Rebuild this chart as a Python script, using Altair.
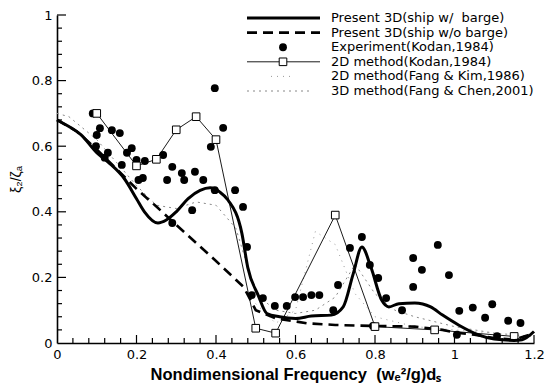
import altair as alt
import pandas as pd

# ---------------- data ----------------
solid_x = [0, 0.03, 0.06, 0.1, 0.13, 0.17, 0.2, 0.22, 0.254, 0.275, 0.3, 0.33, 0.36, 0.385, 0.41,
           0.43, 0.465, 0.48, 0.506, 0.528, 0.56, 0.6, 0.64, 0.69, 0.72, 0.745, 0.767, 0.79,
           0.817, 0.835, 0.86, 0.9, 0.94, 0.97, 1.01, 1.06, 1.1, 1.15, 1.17, 1.2]
solid_y = [0.68, 0.66, 0.635, 0.58, 0.55, 0.50, 0.44, 0.40, 0.366, 0.375, 0.40, 0.44, 0.465, 0.473, 0.46,
           0.436, 0.335, 0.23, 0.146, 0.09, 0.08, 0.075, 0.082, 0.085, 0.11, 0.21, 0.293, 0.23,
           0.13, 0.11, 0.12, 0.122, 0.11, 0.085, 0.055, 0.025, 0.012, 0.008, 0.01, 0.035]

dashed_x = [0, 0.05, 0.1, 0.15, 0.2, 0.25, 0.3, 0.35, 0.4, 0.45, 0.47, 0.5, 0.55, 0.63, 0.7, 0.8,
            0.9, 0.97, 1.0, 1.05, 1.1, 1.15, 1.2]
dashed_y = [0.68, 0.645, 0.59, 0.53, 0.47, 0.416, 0.36, 0.305, 0.25, 0.193, 0.17, 0.10, 0.075, 0.06,
            0.055, 0.052, 0.05, 0.04, 0.032, 0.025, 0.015, 0.01, 0.03]

exp_x = [0.09, 0.10, 0.108, 0.138, 0.158, 0.098, 0.128, 0.12, 0.188, 0.176, 0.20, 0.221, 0.163,
         0.267, 0.216, 0.205, 0.29, 0.314, 0.32, 0.277, 0.347, 0.368, 0.387, 0.397, 0.418, 0.397,
         0.448, 0.34, 0.29, 0.468, 0.478, 0.49, 0.518, 0.548, 0.578, 0.599, 0.619, 0.64, 0.66,
         0.695, 0.707, 0.737, 0.767, 0.787, 0.808, 0.828, 0.868, 0.896, 0.918, 0.896, 0.958,
         0.986, 1.012, 1.046, 1.095, 1.077, 1.135, 1.166, 1.006, 1.107, 0.795]
exp_y = [0.70, 0.634, 0.655, 0.649, 0.64, 0.60, 0.58, 0.565, 0.594, 0.58, 0.558, 0.555, 0.543,
         0.573, 0.503, 0.497, 0.537, 0.518, 0.497, 0.497, 0.522, 0.497, 0.598, 0.777, 0.656, 0.466,
         0.466, 0.405, 0.366, 0.415, 0.293, 0.146, 0.137, 0.113, 0.113, 0.14, 0.14, 0.146, 0.146,
         0.10, 0.177, 0.29, 0.323, 0.238, 0.198, 0.137, 0.10, 0.259, 0.223, 0.171, 0.299,
         0.207, 0.098, 0.108, 0.118, 0.077, 0.068, 0.061, 0.025, 0.021, 0.052]

kodan_x = [0.1, 0.2, 0.25, 0.3, 0.35, 0.4, 0.5, 0.55, 0.7, 0.8, 0.95, 1.15]
kodan_y = [0.70, 0.54, 0.56, 0.65, 0.69, 0.62, 0.045, 0.03, 0.39, 0.05, 0.04, 0.02]

fk_x = [0.5, 0.55, 0.6, 0.65, 0.7, 0.75, 0.8, 0.9, 1.0, 1.1]
fk_y = [0.12, 0.06, 0.10, 0.34, 0.30, 0.15, 0.08, 0.05, 0.04, 0.03]

fc_x = [0, 0.03, 0.1, 0.15, 0.2, 0.25, 0.3, 0.35, 0.4, 0.45, 0.5, 0.55, 0.6, 0.65, 0.7, 0.75,
        0.8, 0.85, 0.9, 1.0, 1.1, 1.2]
fc_y = [0.70, 0.69, 0.62, 0.55, 0.48, 0.42, 0.41, 0.43, 0.42, 0.35, 0.15, 0.10, 0.09, 0.10, 0.14,
        0.24, 0.15, 0.10, 0.08, 0.05, 0.03, 0.02]

x_tick_labels = [0, 0.2, 0.4, 0.6, 0.8, 1, 1.2]
y_tick_labels = [0, 0.2, 0.4, 0.6, 0.8, 1]

legend_labels = ["Present 3D(ship w/\u00a0 barge)", "Present 3D(ship w/o barge)",
                 "Experiment(Kodan,1984)", "2D method(Kodan,1984)",
                 "2D method(Fang & Kim,1986)", "3D method(Fang & Chen,2001)"]

x_title = "Nondimensional Frequency\u00a0 (wₑ²/g)dₛ"
y_title = "ξ₂/ζₐ"

# ---------------- layout ----------------
W, H = 477, 328
FONT = "Liberation Sans"
WIDE = "DejaVu Sans"
xs = alt.Scale(domain=[0, 1.2], nice=False, zero=False)
ys = alt.Scale(domain=[0, 1], nice=False, zero=False)

x_axis = alt.Axis(values=x_tick_labels, format="~g", ticks=False, grid=False,
                  domainColor="black", domainWidth=1.6, labelFontSize=13, labelColor="black",
                  labelFont=WIDE, labelPadding=5, labelFlush=False,
                  title=x_title, titleFont=FONT,
                  titleFontSize=16.5, titleFontWeight="bold", titleColor="black", titlePadding=5)
y_axis = alt.Axis(values=y_tick_labels, format="~g", ticks=False, grid=False,
                  domainColor="black", domainWidth=1.6, labelFontSize=13, labelColor="black",
                  labelFont=WIDE, labelPadding=5, labelFlush=False,
                  title=y_title, titleFont=FONT, titleFontSize=14, titleFontWeight="normal",
                  titleColor="black", titlePadding=8)


def xy(xv, yv):
    return pd.DataFrame({"x": xv, "y": yv})


def enc():
    return dict(x=alt.X("x:Q", scale=xs, axis=x_axis), y=alt.Y("y:Q", scale=ys, axis=y_axis))


layers = []
layers.append(alt.Chart(xy(fc_x, fc_y)).mark_line(color="#888888", strokeWidth=1,
                                                  strokeDash=[2, 4]).encode(**enc()))
layers.append(alt.Chart(xy(fk_x, fk_y)).mark_line(color="#999999", strokeWidth=1,
                                                  strokeDash=[1, 5]).encode(**enc()))
layers.append(alt.Chart(xy(dashed_x, dashed_y)).mark_line(color="black", strokeWidth=2.6,
                                                          strokeDash=[10, 6]).encode(**enc()))
layers.append(alt.Chart(xy(kodan_x, kodan_y)).mark_line(color="black", strokeWidth=0.9).encode(**enc()))
layers.append(alt.Chart(xy(exp_x, exp_y)).mark_circle(color="black", size=62, opacity=1).encode(**enc()))
layers.append(alt.Chart(xy(kodan_x, kodan_y)).mark_point(shape="square", filled=True, fill="white",
                                                         stroke="black", strokeWidth=1, size=58,
                                                         opacity=1).encode(**enc()))
layers.append(alt.Chart(xy(solid_x, solid_y)).mark_line(color="black", strokeWidth=3,
                                                        interpolate="monotone").encode(**enc()))

# inside ticks
x_major = [0.2, 0.4, 0.6, 0.8, 1.0, 1.2]
x_minor = [round(i * 0.04, 2) for i in range(1, 31) if i % 5 != 0]
y_major = [0.2, 0.4, 0.6, 0.8, 1.0]
y_minor = [round(i * 0.04, 2) for i in range(1, 25) if i % 5 != 0]

for vals, ln in ((x_major, 8), (x_minor, 5)):
    layers.append(alt.Chart(pd.DataFrame({"x": vals})).mark_rule(color="black", strokeWidth=1.2).encode(
        x=alt.X("x:Q", scale=xs, axis=x_axis), y=alt.value(H), y2=alt.value(H - ln)))
for vals, ln in ((y_major, 9), (y_minor, 5)):
    layers.append(alt.Chart(pd.DataFrame({"y": vals})).mark_rule(color="black", strokeWidth=1.2).encode(
        y=alt.Y("y:Q", scale=ys, axis=y_axis), x=alt.value(0), x2=alt.value(ln)))

# manual legend
one = pd.DataFrame({"a": [0]})
rows = [3, 17.6, 32.2, 46.8, 61.4, 76]
LX0, LX1, LXM, TX = 190, 263, 226, 274
layers.append(alt.Chart(one).mark_rule(color="black", strokeWidth=3).encode(
    x=alt.value(LX0), x2=alt.value(LX1), y=alt.value(rows[0])))
layers.append(alt.Chart(one).mark_rule(color="black", strokeWidth=2.6, strokeDash=[10, 6]).encode(
    x=alt.value(LX0), x2=alt.value(LX1), y=alt.value(rows[1])))
layers.append(alt.Chart(one).mark_circle(color="black", size=62, opacity=1).encode(
    x=alt.value(LXM), y=alt.value(rows[2])))
layers.append(alt.Chart(one).mark_rule(color="black", strokeWidth=0.9).encode(
    x=alt.value(LX0), x2=alt.value(LX1), y=alt.value(rows[3])))
layers.append(alt.Chart(one).mark_point(shape="square", filled=True, fill="white", stroke="black",
                                        strokeWidth=1, size=58, opacity=1).encode(
    x=alt.value(LXM), y=alt.value(rows[3])))
layers.append(alt.Chart(one).mark_rule(color="#999999", strokeWidth=1, strokeDash=[1, 5]).encode(
    x=alt.value(LXM - 12), x2=alt.value(LXM + 10), y=alt.value(rows[4])))
layers.append(alt.Chart(one).mark_rule(color="#888888", strokeWidth=1, strokeDash=[2, 4]).encode(
    x=alt.value(LX0), x2=alt.value(LX1 - 10), y=alt.value(rows[5])))
for lab, ry in zip(legend_labels, rows):
    layers.append(alt.Chart(pd.DataFrame({"label": [lab]})).mark_text(
        align="left", baseline="middle", fontSize=13, font=WIDE, color="black").encode(
        x=alt.value(TX), y=alt.value(ry), text="label:N"))

chart = alt.layer(*layers).properties(
    width=W, height=H,
    padding={"left": 57, "top": 15, "right": 13, "bottom": 44},
    autosize=alt.AutoSizeParams(type="none"),
    background="white",
).configure_view(stroke=None)

chart.save("out.html", embed_options={"renderer": "svg", "actions": False})
